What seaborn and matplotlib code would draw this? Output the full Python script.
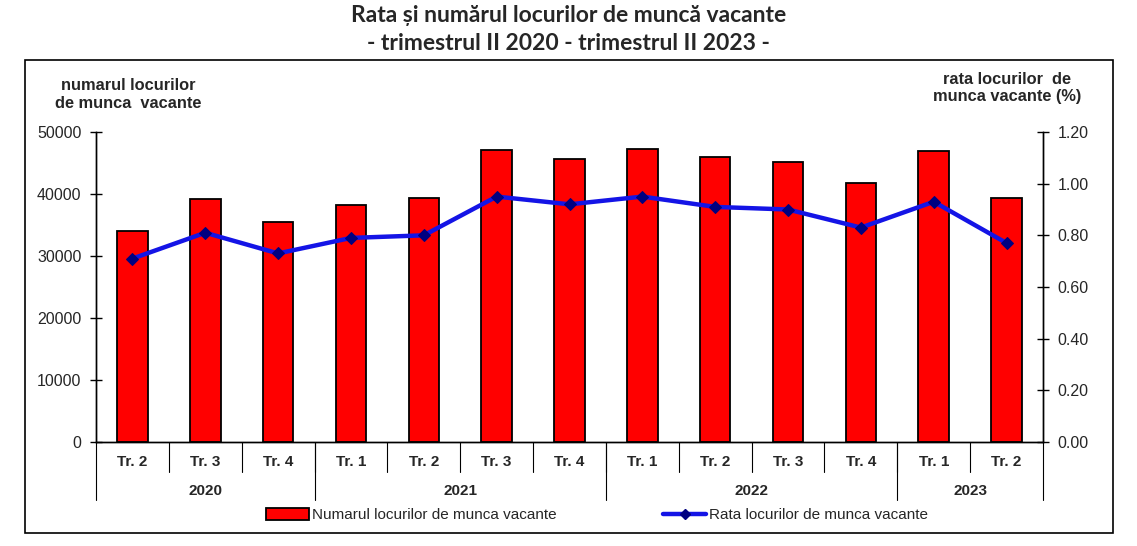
"""Rata si numarul locurilor de munca vacante - chart."""
import matplotlib
matplotlib.use("Agg")
import matplotlib.pyplot as plt
import matplotlib.transforms as mtransforms
from matplotlib.lines import Line2D
from matplotlib.patches import Rectangle
import seaborn as sns
import pandas as pd
import numpy as np

quarters = ["Tr. 2", "Tr. 3", "Tr. 4",
            "Tr. 1", "Tr. 2", "Tr. 3", "Tr. 4",
            "Tr. 1", "Tr. 2", "Tr. 3", "Tr. 4",
            "Tr. 1", "Tr. 2"]
years = ["2020", "2021", "2022", "2023"]
quarters_per_year = [3, 4, 4, 2]
vacancies = [34000, 39200, 35500, 38300, 39400, 47100, 45600,
             47300, 46000, 45200, 41800, 46900, 39400]
rate = [0.71, 0.81, 0.73, 0.79, 0.80, 0.95, 0.92,
        0.95, 0.91, 0.90, 0.83, 0.93, 0.77]

sns.set_theme(style="white")
plt.rcParams["font.family"] = ["Liberation Sans", "DejaVu Sans"]
NARROW = ["Liberation Sans Narrow", "Liberation Sans"]

W, H = 1137, 546
fig = plt.figure(figsize=(W / 100, H / 100), dpi=100)
ax = fig.add_axes([96 / W, 1 - 442 / H, (1043 - 96) / W, (442 - 132) / H])

df = pd.DataFrame({"pos": [f"{i}" for i in range(len(quarters))],
                   "vac": vacancies, "rate": rate})
sns.barplot(data=df, x="pos", y="vac", color="#ff0000", saturation=1,
            width=0.42, edgecolor="black", linewidth=1.3, ax=ax)
ax.set_xlim(-0.5, len(quarters) - 0.5)
ax.set_ylim(0, 50000)
ax.set_yticks(np.arange(0, 50001, 10000))
ax.set_xticks([])
ax.set_xlabel("")
ax.set_ylabel("")
ax.tick_params(axis="y", direction="inout", length=9, width=1, color="black",
               labelsize=11.5, pad=6, left=True)

ax2 = ax.twinx()
sns.lineplot(x=np.arange(len(rate)), y=rate, color="#1414e6", linewidth=3.2,
             marker="D", markersize=6, markerfacecolor="#000080",
             markeredgecolor="#000080", ax=ax2)
ax2.set_ylim(0, 1.2)
ax2.set_yticks(np.arange(0, 1.21, 0.2))
ax2.set_yticklabels([f"{v:.2f}" for v in np.arange(0, 1.21, 0.2)])
ax2.tick_params(axis="y", direction="inout", length=9, width=1, color="black",
                labelsize=11.5, pad=6, right=True)

for a in (ax, ax2):
    a.spines["top"].set_visible(False)
    for s in ("left", "right", "bottom"):
        a.spines[s].set_color("black")
        a.spines[s].set_linewidth(1)
    a.grid(False)

# category axis: quarter labels, year labels and separators
trans = mtransforms.blended_transform_factory(ax.transData, ax.transAxes)
px = 1 / (442 - 132)
for i, q in enumerate(quarters):
    ax.text(i, -20 * px, q, transform=trans, ha="center", va="center",
            fontsize=11, fontweight="bold", family=NARROW)
for i in range(1, len(quarters)):
    ax.plot([i - 0.5, i - 0.5], [0, -30 * px], transform=trans,
            color="black", lw=0.8, clip_on=False)
start = 0
bounds = [-0.5]
for y, n in zip(years, quarters_per_year):
    ax.text(start + (n - 1) / 2, -49 * px, y, transform=trans, ha="center",
            va="center", fontsize=11, fontweight="bold", family=NARROW)
    start += n
    bounds.append(start - 0.5)
for b in bounds:
    ax.plot([b, b], [0, -58 * px], transform=trans, color="black", lw=0.8,
            clip_on=False)

# axis titles
for txt, x, y in [("numarul locurilor", 128, 85),
                  ("de munca  vacante", 128, 103),
                  ("rata locurilor  de", 1007, 79),
                  ("munca vacante (%)", 1007, 97)]:
    fig.text(x / W, 1 - y / H, txt, ha="center", va="center",
             fontsize=11.8, fontweight="bold")

# title
for txt, y in [("Rata și numărul locurilor de muncă vacante", 15),
               ("- trimestrul II 2020 - trimestrul II 2023 -", 44)]:
    fig.text(0.5, 1 - y / H, txt, ha="center", va="center", fontsize=16.5,
             fontweight="bold", family=["Lato", "DejaVu Sans"])

# frame
fig.patches.append(Rectangle((25 / W, 1 - 533 / H), (1113 - 25) / W,
                             (533 - 60) / H, transform=fig.transFigure,
                             fill=False, edgecolor="black", lw=1.2))

# legend
h_bar = Rectangle((0, 0), 1, 1, facecolor="#ff0000", edgecolor="black", lw=1.3)
h_line = Line2D([], [], color="#1414e6", lw=3.2, marker="D", markersize=5,
                markerfacecolor="#000080", markeredgecolor="#000080")
fig.legend([h_bar, h_line],
           ["Numarul locurilor de munca vacante",
            "Rata locurilor de munca vacante"],
           loc="center", bbox_to_anchor=(597 / W, 1 - 515 / H), ncol=2,
           frameon=False, handlelength=2.8, handleheight=0.8,
           handletextpad=0.2, columnspacing=7,
           prop={"family": NARROW, "size": 11})

fig.savefig("out.png", dpi=100)
